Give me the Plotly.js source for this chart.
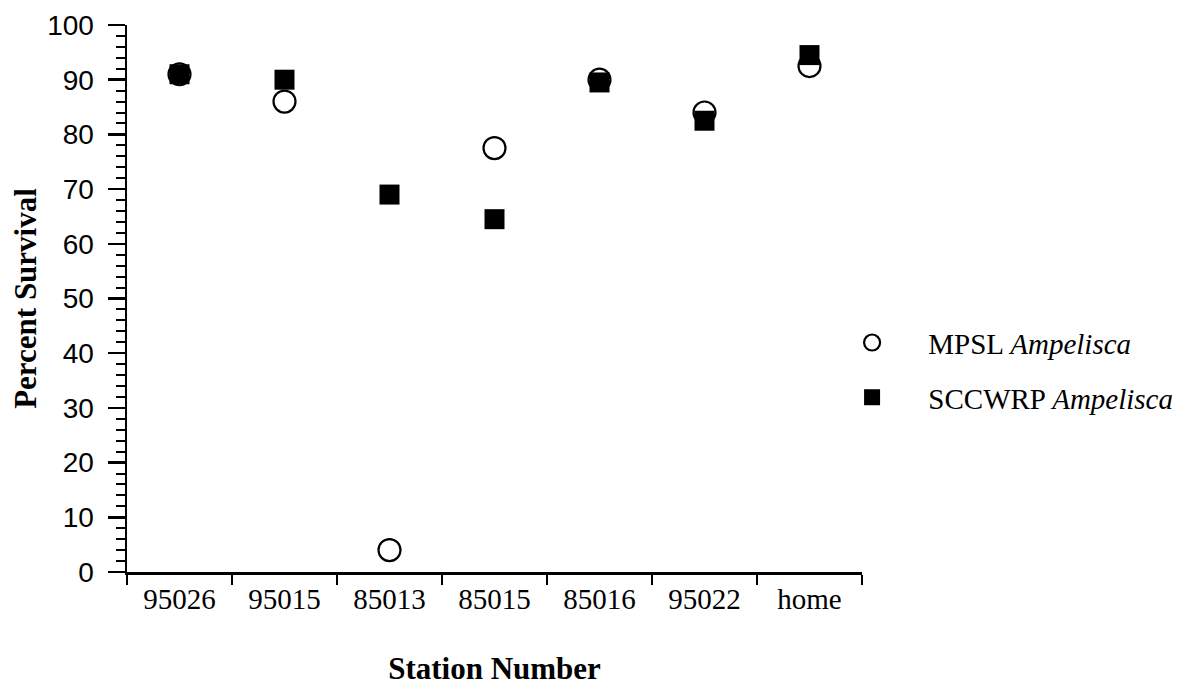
<!DOCTYPE html>
<html>
<head>
<meta charset="utf-8">
<script src="https://cdn.plot.ly/plotly-3.0.1.min.js"></script>
<style>html,body{margin:0;padding:0;background:#fff;}#chart{width:1195px;height:686px;}</style>
</head>
<body>
<div id="chart"></div>
<script>
const stations = ["95026", "95015", "85013", "85015", "85016", "95022", "home"];
const mpslSurvival = [91, 86, 4, 77.5, 90, 84, 92.5];
const sccwrpSurvival = [91, 90, 69, 64.5, 89.5, 82.5, 94.5];
const seriesNames = ["MPSL <i>Ampelisca</i>", "SCCWRP <i>Ampelisca</i>"];
const legendPad = "\u00a0\u00a0\u00a0\u00a0\u00a0";

const traces = [
  {
    type: "scatter", mode: "markers", x: stations, y: mpslSurvival,
    name: legendPad + seriesNames[0], legendgroup: "a",
    marker: {symbol: "circle-open", size: 22, color: "#000", line: {width: 2.2, color: "#000"}}
  },
  {
    type: "scatter", mode: "markers", x: stations, y: sccwrpSurvival,
    name: legendPad + seriesNames[1], legendgroup: "b",
    marker: {symbol: "square", size: 20, color: "#000", line: {width: 0}}
  }
];

const layout = {
  width: 1195, height: 686,
  margin: {l: 127, r: 333, t: 25, b: 114},
  paper_bgcolor: "#fff", plot_bgcolor: "#fff",
  showlegend: true,
  legend: {
    x: 0.9865, y: 0.369, xanchor: "left", yanchor: "middle",
    font: {family: "Liberation Serif", size: 29, color: "#000"},
    traceorder: "grouped", tracegroupgap: 14,
    itemwidth: 30, bgcolor: "rgba(0,0,0,0)"
  },
  xaxis: {
    type: "category", range: [-0.5, 6.5],
    showline: true, linecolor: "#000", linewidth: 2.5,
    showgrid: false, zeroline: false,
    ticks: "outside", tickson: "boundaries", ticklen: 10, tickwidth: 2.5, tickcolor: "#000",
    tickfont: {family: "Liberation Serif", size: 29, color: "#000"},
    title: {text: "<b>Station Number</b>", standoff: 46, font: {family: "Liberation Serif", size: 31, color: "#000"}}
  },
  yaxis: {
    range: [0, 100], dtick: 10, tick0: 0,
    showline: true, linecolor: "#000", linewidth: 2.5,
    showgrid: false, zeroline: false,
    ticks: "outside", ticklen: 17, tickwidth: 2.5, tickcolor: "#000",
    minor: {dtick: 2, ticks: "outside", ticklen: 9, tickwidth: 2, tickcolor: "#000", showgrid: false},
    ticklabelstandoff: 8,
    tickfont: {family: "Liberation Sans", size: 28, color: "#000"},
    title: {text: "<b>Percent Survival</b>", font: {family: "Liberation Serif", size: 31, color: "#000"}, standoff: 2}
  }
};

Plotly.newPlot("chart", traces, layout, {displayModeBar: false, staticPlot: true});
</script>
</body>
</html>
